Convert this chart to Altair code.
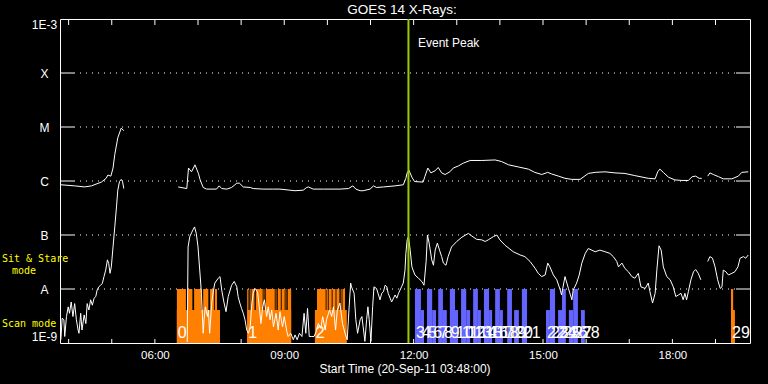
import altair as alt
import pandas as pd

# ---------------- data (hours of day, log10 flux W/m^2) ----------------
up1_t = [3.82,4.14,4.37,4.53,4.76,4.87,4.91,4.98,5.03,5.07,5.14,5.22,5.28]
up1_v = [-6.07,-6.09,-6.11,-6.09,-6.02,-5.95,-5.89,-5.91,-5.76,-5.51,-5.20,-5.02,-5.07]

up2_t = [6.54,6.74,6.78,6.85,6.93,7.01,7.05,7.12,7.20,7.43,7.49,7.55,7.67,7.78,7.90,7.96,8.05,8.21,8.28,8.51,
         8.75,8.90,9.13,9.25,9.44,9.52,9.56,9.67,9.91,10.06,10.29,10.49,10.59,10.66,10.76,10.83,10.99,11.07,11.14,11.30,
         11.57,11.76,11.82,11.85,
         11.89,11.96,12.02,12.22,12.26,12.33,12.40,12.50,12.57,12.65,12.73,12.84,12.92,13.04,13.15,13.31,13.58,13.89,14.04,14.20,
         14.43,14.66,14.81,14.97,15.11,15.20,15.36,15.51,15.67,15.86,16.05,16.21,16.44,16.67,16.90,17.13,17.44,17.60,17.66,17.71,
         17.79,17.91,18.06,18.22,18.37,18.46,18.54,18.62,18.68]
up2_v = [-6.11,-6.14,-5.76,-5.83,-5.70,-5.86,-5.98,-6.12,-6.15,-6.15,-6.09,-6.14,-6.15,-6.12,-6.04,-6.04,-6.11,-6.12,-6.14,-6.15,
         -6.15,-6.15,-6.17,-6.18,-6.17,-6.12,-6.11,-6.15,-6.15,-6.15,-6.15,-6.14,-6.09,-6.15,-6.18,-6.18,-6.15,-6.09,-6.12,-6.11,
         -6.09,-6.07,-5.95,-5.85,
         -5.80,-5.93,-6.01,-6.02,-5.92,-5.76,-5.85,-5.81,-5.75,-5.85,-5.88,-5.83,-5.76,-5.72,-5.67,-5.62,-5.62,-5.61,-5.64,-5.70,
         -5.74,-5.78,-5.84,-5.88,-5.84,-5.87,-5.91,-5.95,-5.97,-5.97,-5.86,-5.84,-5.83,-5.85,-5.86,-5.90,-5.95,-5.96,-5.83,-5.78,
         -5.84,-5.93,-5.98,-5.99,-5.99,-5.92,-5.91,-5.95,-5.95]

up3_t = [18.82,18.87,18.95,19.07,19.18,19.38,19.53,19.61,19.76]
up3_v = [-5.91,-5.85,-5.88,-5.92,-5.96,-5.96,-5.91,-5.84,-5.83]

lo1_t = [3.82,3.85,3.89,3.91,3.95,3.99,4.02,4.06,4.10,4.14,4.18,4.22,4.24,4.28,4.31,4.36,4.40,4.43,4.47,4.51,
         4.55,4.59,4.63,4.66,4.70,4.74,4.78,4.82,4.86,4.90,4.93,4.96,4.99,5.03,5.07,5.11,5.14,5.18,5.22,5.25,5.28]
lo1_v = [-8.94,-8.54,-8.57,-8.88,-8.51,-8.33,-8.45,-8.24,-8.51,-8.27,-8.57,-8.76,-8.82,-8.45,-8.76,-8.48,-8.64,-8.27,-8.39,-8.20,
         -8.30,-8.17,-8.14,-8.02,-7.96,-7.93,-7.90,-7.77,-7.65,-7.46,-7.53,-7.71,-7.59,-7.22,-6.85,-6.48,-6.17,-6.01,-5.97,-6.01,-6.14]

lo2_t = [6.75,6.77,6.81,6.85,6.88,6.92,6.96,7.00,7.04,7.08,7.12,7.14,7.17,7.22,7.24,7.27,7.32,7.36,7.39,7.47,
         7.51,7.55,7.60,7.65,7.70,7.78,7.84,7.90,7.93,7.97,8.01,8.05,8.09,8.13,8.17,8.21,8.25,8.28,8.32,8.38,
         8.42,8.46,8.50,8.54,8.59,8.63,8.67,8.71,8.75,8.81,8.86,8.90,8.96,9.00,9.06,9.09,9.15,9.21,9.25,9.30,
         9.35,9.41,9.46,9.50,9.54,9.58,9.64,9.69,9.74,9.79,9.85,9.89,9.95,9.98,10.05,10.10,10.14,10.19,10.23,10.29,
         10.35,10.41,10.46,10.51,10.54,10.56,10.62,10.66,10.70,10.76,10.80,10.83,10.87,10.91,10.94,10.97,11.01,11.05,11.08,11.14,
         11.22,11.26,11.30,11.34,11.38,11.41,11.49,11.57,11.61,11.65,11.72,11.76,11.80,11.82,11.85,
         11.88,11.92,11.96,12.03,12.11,12.19,12.24,12.29,12.32,12.36,12.42,12.46,12.50,12.55,12.60,12.65,12.69,12.75,12.80,12.88,
         13.00,13.12,13.27,13.35,13.46,13.58,13.66,13.73,13.85,13.93,14.00,14.12,14.31,14.47,14.58,14.70,14.82,14.89,14.97,15.05,
         15.11,15.16,15.24,15.32,15.40,15.43,15.51,15.59,15.67,15.70,15.78,15.84,15.90,15.98,16.05,16.21,16.32,16.44,16.55,16.63,
         16.71,16.75,16.83,16.90,16.98,17.06,17.13,17.21,17.27,17.37,17.44,17.48,17.54,17.60,17.64,17.69,17.74,17.79,17.87,17.95,
         18.02,18.08,18.14,18.20,18.25,18.29,18.33,18.37,18.43,18.49,18.54,18.60,18.66]
lo2_v = [-8.98,-7.22,-7.03,-6.96,-6.91,-6.85,-6.97,-7.22,-7.65,-8.08,-8.82,-8.57,-8.33,-8.51,-8.39,-8.82,-8.24,-8.02,-7.89,-7.80,
         -7.77,-8.02,-8.24,-8.42,-8.14,-7.93,-7.86,-7.96,-8.14,-8.26,-8.36,-8.45,-8.57,-8.76,-8.82,-8.70,-8.26,-8.08,-7.99,-8.05,
         -8.33,-8.64,-8.33,-8.20,-8.51,-8.33,-8.57,-8.39,-8.70,-8.45,-8.76,-8.42,-8.70,-8.51,-8.79,-8.88,-8.82,-8.94,-8.85,-8.94,
         -8.82,-8.88,-8.45,-8.82,-8.36,-8.88,-8.88,-8.88,-8.79,-8.64,-8.73,-8.51,-8.76,-8.57,-8.39,-8.51,-8.33,-8.76,-8.39,-8.26,
         -8.64,-8.82,-8.94,-8.26,-7.89,-7.96,-8.08,-8.57,-8.82,-8.57,-8.51,-8.70,-8.97,-8.57,-8.33,-8.57,-8.97,-8.33,-7.96,-7.99,
         -8.20,-8.08,-8.05,-7.93,-7.96,-8.08,-8.24,-8.11,-8.17,-8.08,-7.96,-7.89,-7.65,-7.34,-7.09,
         -7.03,-7.28,-7.59,-7.74,-7.80,-7.86,-7.93,-7.49,-7.00,-7.15,-7.46,-7.56,-7.28,-7.15,-7.28,-7.40,-7.52,-7.56,-7.40,-7.22,
         -7.12,-7.04,-6.97,-7.02,-7.08,-7.09,-7.12,-7.09,-7.03,-7.00,-7.09,-7.19,-7.31,-7.37,-7.40,-7.49,-7.62,-7.71,-7.77,-7.74,
         -7.52,-7.59,-7.74,-7.83,-8.02,-8.11,-7.77,-7.99,-8.20,-8.02,-7.89,-7.74,-7.52,-7.34,-7.25,-7.31,-7.28,-7.31,-7.34,-7.40,
         -7.49,-7.59,-7.52,-7.62,-7.68,-7.77,-7.80,-7.71,-7.96,-7.99,-7.89,-8.05,-8.26,-8.08,-7.65,-7.20,-7.28,-7.59,-7.77,-7.83,
         -7.96,-8.14,-8.11,-8.08,-8.20,-8.08,-8.20,-8.05,-7.83,-7.68,-7.64,-7.71,-7.83]

lo3_t = [18.82,18.87,18.93,18.99,19.05,19.11,19.15,19.18,19.24,19.30,19.38,19.45,19.52,19.57,19.65,19.70,19.76]
lo3_v = [-7.49,-7.40,-7.43,-7.59,-7.83,-7.99,-7.96,-7.65,-7.68,-7.74,-7.71,-7.68,-7.59,-7.43,-7.40,-7.43,-7.37]

# observation blocks (hours)
orange_tall_start = [6.51,6.76,6.91,7.12,7.28,7.39,
                     8.14,8.20,8.24,8.34,8.52,8.57,8.80,8.85,8.94,9.03,9.08,
                     9.76,9.98,10.03,10.12,10.21,10.31,10.35,
                     19.36]
orange_tall_end   = [6.72,6.87,7.08,7.24,7.37,7.44,
                     8.17,8.22,8.31,8.50,8.54,8.78,8.82,8.92,9.01,9.05,9.16,
                     9.96,10.01,10.10,10.19,10.28,10.33,10.41,
                     19.41]
orange_short_start = [6.51, 8.14, 9.71, 19.36]
orange_short_end   = [7.51, 9.16, 10.45, 19.45]

blue_start = [12.03,12.17,12.31,12.43,12.57,12.68,12.84,12.96,13.10,13.22,13.38,13.49,13.63,13.75,
              13.89,14.00,14.17,14.33,14.51,15.07,15.16,15.35,15.44,15.60,15.70,15.88]
blue_end   = [12.17,12.24,12.43,12.52,12.68,12.77,12.96,13.03,13.22,13.31,13.49,13.56,13.75,13.82,
              14.00,14.07,14.28,14.44,14.63,15.16,15.28,15.44,15.53,15.70,15.81,15.97]
blue_kind  = ["T","S","T","S","T","S","T","S","T","S","T","S","T","S",
              "T","S","T","S","T","S","T","S","T","S","T","S"]

obs_start = [6.51, 8.14, 9.71] + blue_start + [19.36]
obs_label = [str(i) for i in range(len(obs_start))]

event_peak = [11.88]
hour_ticks = list(range(4, 20))
decades = [-8, -7, -6, -5, -4]
tall_level, short_level, floor_level = -8.0, -8.39, -9.0

# ---------------- tables ----------------
rows = []
for seg, (ts, vs) in enumerate([(up1_t, up1_v), (up2_t, up2_v), (up3_t, up3_v),
                                 (lo1_t, lo1_v), (lo2_t, lo2_v), (lo3_t, lo3_v)]):
    for t, v in zip(ts, vs):
        rows.append({"t": t, "lf": v, "seg": seg})
df_lines = pd.DataFrame(rows)

bars = []
for s, e in zip(orange_short_start, orange_short_end):
    bars.append({"s": s, "e": e, "lv": short_level, "c": "#ff8000"})
for s, e in zip(orange_tall_start, orange_tall_end):
    bars.append({"s": s, "e": e, "lv": tall_level, "c": "#ff8000"})
for s, e, k in zip(blue_start, blue_end, blue_kind):
    bars.append({"s": s, "e": e, "lv": tall_level if k == "T" else short_level, "c": "#6464ff"})
df_bars = pd.DataFrame(bars)
df_bars["lo"] = floor_level

df_obs = pd.DataFrame({"s": obs_start, "lab": obs_label})
df_hours = pd.DataFrame({"h": hour_ticks})
df_dec = pd.DataFrame({"lf": decades})
df_peak = pd.DataFrame({"h": event_peak})

W, H = 690, 324
FONT = "Liberation Sans"
xs = alt.Scale(domain=[3.8, 19.8], nice=False, zero=False)
ys = alt.Scale(type="log", domain=[1e-9, 1e-3], nice=False)

ylab = ("datum.value < 3e-9 ? '1E-9' : datum.value < 3e-8 ? 'A' : datum.value < 3e-7 ? 'B' : "
        "datum.value < 3e-6 ? 'C' : datum.value < 3e-5 ? 'M' : datum.value < 3e-4 ? 'X' : '1E-3'")

lines = alt.Chart(df_lines).transform_calculate(f="pow(10, datum.lf)").mark_line(
    color="white", strokeWidth=1, clip=True
).encode(
    x=alt.X("t:Q", scale=xs, title=None,
            axis=alt.Axis(values=[6, 9, 12, 15, 18],
                          labelExpr="(datum.value < 10 ? '0' : '') + datum.value + ':00'",
                          ticks=False, domain=False, grid=False, labelColor="white",
                          labelFont=FONT, labelFontSize=11.5, labelPadding=6, title=None)),
    y=alt.Y("f:Q", scale=ys, title=None,
            axis=alt.Axis(values=[1e-9, 1e-8, 1e-7, 1e-6, 1e-5, 1e-4, 1e-3], labelExpr=ylab,
                          ticks=False, domain=False, grid=False, labelColor="white",
                          labelFont=FONT, labelFontSize=12, labelAlign="center",
                          labelPadding=16, labelFlush=True, title=None)),
    detail="seg:N",
)

grid = alt.Chart(df_dec).transform_calculate(f="pow(10, datum.lf)").mark_rule(
    color="white", strokeDash=[1, 5], strokeWidth=1
).encode(y=alt.Y("f:Q", scale=ys, title=None), x=alt.value(14), x2=alt.value(676))

ytick_l = alt.Chart(df_dec).transform_calculate(f="pow(10, datum.lf)").mark_rule(
    color="white", strokeWidth=1
).encode(y=alt.Y("f:Q", scale=ys, title=None), x=alt.value(0), x2=alt.value(14))

ytick_r = alt.Chart(df_dec).transform_calculate(f="pow(10, datum.lf)").mark_rule(
    color="white", strokeWidth=1
).encode(y=alt.Y("f:Q", scale=ys, title=None), x=alt.value(676), x2=alt.value(690))

xtick_t = alt.Chart(df_hours).mark_rule(color="white", strokeWidth=1).encode(
    x=alt.X("h:Q", scale=xs, title=None), y=alt.value(0), y2=alt.value(6))
xtick_b = alt.Chart(df_hours).mark_rule(color="white", strokeWidth=1).encode(
    x=alt.X("h:Q", scale=xs, title=None), y=alt.value(320), y2=alt.value(324))

rects = alt.Chart(df_bars).transform_calculate(
    f0="pow(10, datum.lo)", f1="pow(10, datum.lv)"
).mark_rect(clip=True).encode(
    x=alt.X("s:Q", scale=xs, title=None), x2="e:Q",
    y=alt.Y("f0:Q", scale=ys, title=None), y2="f1:Q",
    color=alt.Color("c:N", scale=None),
)

peak = alt.Chart(df_peak).mark_rule(color="#99cc00", strokeWidth=2).encode(
    x=alt.X("h:Q", scale=xs, title=None), y=alt.value(0), y2=alt.value(H))

obs_text = alt.Chart(df_obs).mark_text(
    color="white", font=FONT, fontSize=16, align="left", baseline="alphabetic", dx=1
).encode(x=alt.X("s:Q", scale=xs, title=None), y=alt.value(319), text="lab:N")

def label(txt, x, y, size=12, color="white", align="left", font=FONT):
    return alt.Chart(pd.DataFrame({"t": [txt]})).mark_text(
        color=color, font=font, fontSize=size, align=align, baseline="middle"
    ).encode(x=alt.value(x), y=alt.value(y), text="t:N")

texts = [
    label("GOES 14 X-Rays:", 342, -9, size=13.5, align="center"),
    label("Event Peak", 358, 24, size=12),
    label("Start Time (20-Sep-11 03:48:00)", 345, 350, size=12, align="center"),
    label("Sit & Stare", -58, 240, size=10, color="#ffff00", font="DejaVu Sans Mono"),
    label("mode", -36, 252, size=10, color="#ffff00", align="center", font="DejaVu Sans Mono"),
    label("Scan mode", -58, 305, size=10, color="#ffff00", font="DejaVu Sans Mono"),
]

chart = alt.layer(
    grid, ytick_l, ytick_r, xtick_t, xtick_b, rects, lines, peak, obs_text, *texts
).properties(
    width=W, height=H,
    padding={"left": 60, "top": 19, "right": 18, "bottom": 41},
    autosize=alt.AutoSizeParams(type="none"),
).configure(background="black").configure_view(stroke="white", strokeWidth=1)

chart.save("out.html", embed_options={"renderer": "svg", "actions": False})
